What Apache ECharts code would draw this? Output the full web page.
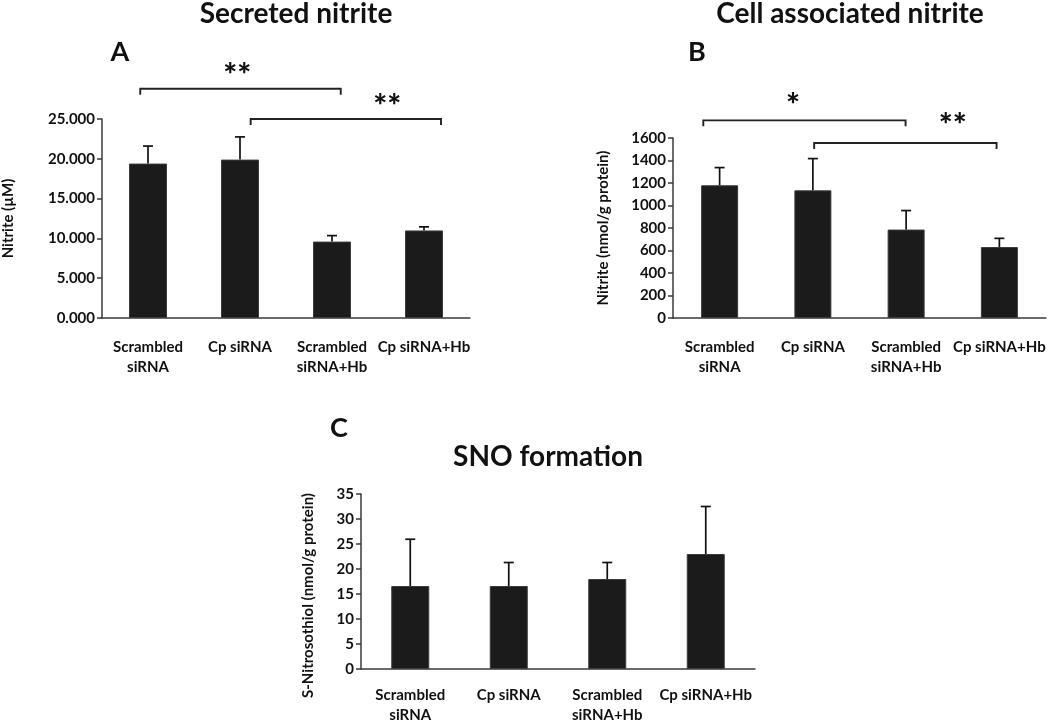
<!DOCTYPE html>
<html>
<head>
<meta charset="utf-8">
<script src="https://cdn.jsdelivr.net/npm/echarts@6/dist/echarts.min.js"></script>
<style>
  html, body { margin: 0; padding: 0; background: #fff; }
  #chart { width: 1050px; height: 725px; }
</style>
</head>
<body>
<div id="chart"></div>
<script>
// ---- data ----
const categories = ['Scrambled\nsiRNA', 'Cp siRNA', 'Scrambled\nsiRNA+Hb', 'Cp siRNA+Hb'];

const secretedMean = [19.4, 19.9, 9.6, 11.0];
const secretedErr  = [2.2, 2.85, 0.75, 0.45];

const cellMean = [1180, 1135, 786, 631];
const cellErr  = [157, 282, 169, 77];

const snoMean = [16.6, 16.6, 18.0, 23.0];
const snoErr  = [9.35, 4.7, 3.3, 9.5];

// significance brackets: from/to/textAt in category units (integer = bar centre), level in axis units
const sigA = [
  { from: -0.084, to: 2.095, level: 28.8, textAt: 0.97, textLevel: 31.4, label: '**' },
  { from: 1.116, to: 3.185, level: 25.0, textAt: 2.60, textLevel: 27.5, label: '**' }
];
const sigB = [
  { from: -0.175, to: 1.994, level: 1757, textAt: 0.786, textLevel: 1953, label: '*' },
  { from: 1.014, to: 2.97, level: 1556, textAt: 2.50, textLevel: 1775, label: '**' }
];

const titles = ['Secreted nitrite', 'Cell associated nitrite', 'SNO formation'];
const panelLetters = ['A', 'B', 'C'];
const yNames = ['Nitrite (\u00b5M)', 'Nitrite (nmol/g protein)', 'S-Nitrosothiol (nmol/g protein)'];

// ---- styles ----
const FONT = 'Lato';
const TXT = '#111';
const AXIS = '#3a3a3a';

const chart = echarts.init(document.getElementById('chart'));

function errRender(params, api) {
  const i = api.value(0);
  const base = api.coord([i, api.value(1)]);
  const top = api.coord([i, api.value(2)]);
  const cap = 5;
  const st = { stroke: '#111', lineWidth: 1.7 };
  return {
    type: 'group',
    children: [
      { type: 'line', shape: { x1: top[0], y1: base[1], x2: top[0], y2: top[1] }, style: st },
      { type: 'line', shape: { x1: top[0] - cap, y1: top[1], x2: top[0] + cap, y2: top[1] }, style: st }
    ]
  };
}

function makeSigRender(sig) {
  return function (params, api) {
    const s = sig[params.dataIndex];
    const c0 = api.coord([0, s.level]);
    const band = api.size([1, 0])[0];
    const x1 = c0[0] + s.from * band;
    const x2 = c0[0] + s.to * band;
    const y = c0[1];
    const drop = 6;
    const tx = c0[0] + s.textAt * band;
    const ty = api.coord([0, s.textLevel])[1] + 7;
    return {
      type: 'group',
      children: [
        { type: 'polyline', shape: { points: [[x1, y + drop], [x1, y], [x2, y], [x2, y + drop]] },
          style: { stroke: '#222', lineWidth: 1.9, fill: null } },
        { type: 'text', x: tx, y: ty,
          style: { text: s.label, fill: TXT, font: '900 33px ' + FONT, align: 'center', verticalAlign: 'middle' } }
      ]
    };
  };
}

const grids = [
  { left: 98, top: 119, width: 372, height: 199 },
  { left: 673, top: 138, width: 373, height: 180 },
  { left: 361, top: 494, width: 394, height: 177 }
];

const yCfg = [
  { min: 0, max: 25, interval: 5, fmt: v => v.toFixed(3), gap: 86, pad: [0, 0, 0, 0] },
  { min: 0, max: 1600, interval: 200, fmt: v => String(v), gap: 62, pad: [0, 0, 0, 0] },
  { min: 0, max: 35, interval: 5, fmt: v => String(v), gap: 45, pad: [0, 28, 0, 0] }
];
const labelMargins = [19, 19, 16];
const barWidths = [38, 37, 38];

const xAxes = grids.map((g, k) => ({
  type: 'category', gridIndex: k, data: categories,
  axisLine: { lineStyle: { color: AXIS, width: 1.5 } },
  axisTick: { show: false },
  axisLabel: { interval: 0, margin: labelMargins[k], color: TXT, fontFamily: FONT, fontWeight: 'bold', fontSize: 15, lineHeight: 20 }
}));

const yAxes = yCfg.map((c, k) => ({
  type: 'value', gridIndex: k, min: c.min, max: c.max, interval: c.interval,
  name: yNames[k], nameLocation: 'middle', nameRotate: 90, nameGap: c.gap,
  nameTextStyle: { color: TXT, fontFamily: FONT, fontWeight: 'bold', fontSize: 15, padding: c.pad },
  axisLine: { show: true, lineStyle: { color: AXIS, width: 1.5 } },
  axisTick: { show: true, length: 5, lineStyle: { color: AXIS, width: 1.5 } },
  splitLine: { show: false },
  axisLabel: { formatter: c.fmt, color: TXT, fontFamily: FONT, fontWeight: 'bold', fontSize: 15, margin: 7 }
}));

const means = [secretedMean, cellMean, snoMean];
const errs = [secretedErr, cellErr, snoErr];

const series = [];
means.forEach((m, k) => {
  series.push({
    type: 'bar', xAxisIndex: k, yAxisIndex: k, data: m, barWidth: barWidths[k],
    itemStyle: { color: '#1b1b1b', borderColor: '#3c3c3c', borderWidth: 1 },
    z: 2
  });
  series.push({
    type: 'custom', xAxisIndex: k, yAxisIndex: k, renderItem: errRender,
    data: m.map((v, i) => [i, v, v + errs[k][i]]), encode: { x: 0, y: [1, 2] }, z: 3, silent: true
  });
});
[sigA, sigB].forEach((sig, k) => {
  series.push({
    type: 'custom', xAxisIndex: k, yAxisIndex: k, renderItem: makeSigRender(sig), clip: false,
    data: sig.map(s => [0, s.level]), encode: { x: 0, y: 1 }, z: 4, silent: true
  });
});

const titlePos = [[296, 14], [850, 14], [548, 457]];
const letterPos = [[120, 52], [697, 52], [339, 428]];
const graphic = [];
titles.forEach((t, k) => graphic.push({
  type: 'text', x: titlePos[k][0], y: titlePos[k][1],
  style: { text: t, fill: TXT, font: 'bold 28px ' + FONT, align: 'center', verticalAlign: 'middle' }
}));
panelLetters.forEach((t, k) => graphic.push({
  type: 'text', x: letterPos[k][0], y: letterPos[k][1],
  style: { text: t, fill: TXT, font: 'bold 27px ' + FONT, align: 'center', verticalAlign: 'middle' }
}));

chart.setOption({
  animation: false,
  backgroundColor: '#fff',
  grid: grids,
  xAxis: xAxes,
  yAxis: yAxes,
  series: series,
  graphic: graphic
});
</script>
</body>
</html>
